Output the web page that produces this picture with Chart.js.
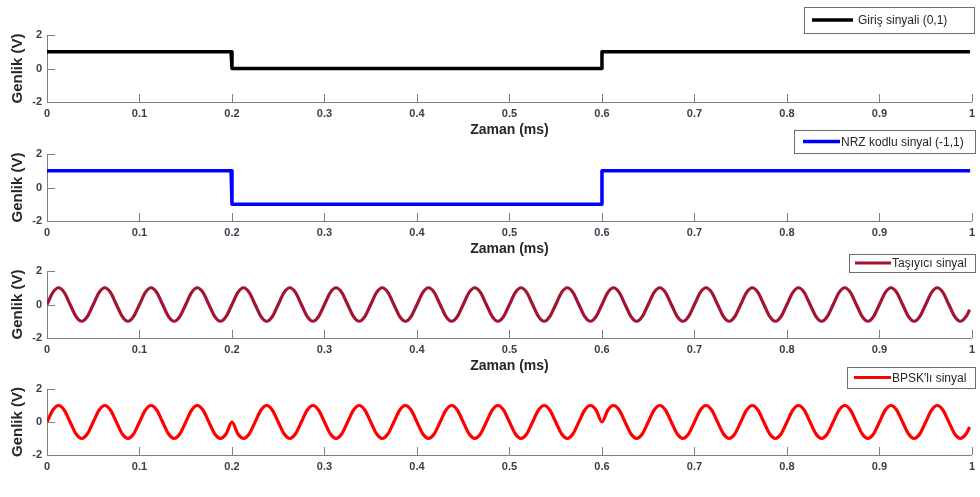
<!DOCTYPE html>
<html>
<head>
<meta charset="utf-8">
<script src="https://cdn.jsdelivr.net/npm/chart.js@4.4.1/dist/chart.umd.min.js"></script>
<style>
  html, body { margin: 0; padding: 0; background: #ffffff; }
  body { width: 980px; height: 497px; position: relative; overflow: hidden; }
  .panel { position: absolute; left: 0; width: 980px; }
</style>
</head>
<body>
<div class="panel" id="p1"><canvas id="c1"></canvas></div>
<div class="panel" id="p2"><canvas id="c2"></canvas></div>
<div class="panel" id="p3"><canvas id="c3"></canvas></div>
<div class="panel" id="p4"><canvas id="c4"></canvas></div>
<script>
// ---------------- DATA ----------------
// Square waves (time in ms)
const stepTimeMs = [0, 0.199, 0.2, 0.599, 0.6, 0.998];
const inputSignal = [1, 1, 0, 0, 1, 1];        // Giriş sinyali (0,1)
const nrzSignal   = [1, 1, -1, -1, 1, 1];      // NRZ kodlu sinyal (-1,1)

// Sampled carrier / BPSK (time in ms)
const waveTimeMs = [
  0,0.00625,0.0125,0.01875,0.025,0.03125,0.0375,0.04375,
  0.05,0.05625,0.0625,0.06875,0.075,0.08125,0.0875,0.09375,
  0.1,0.10625,0.1125,0.11875,0.125,0.13125,0.1375,0.14375,
  0.15,0.15625,0.1625,0.16875,0.175,0.18125,0.1875,0.19375,
  0.2,0.20625,0.2125,0.21875,0.225,0.23125,0.2375,0.24375,
  0.25,0.25625,0.2625,0.26875,0.275,0.28125,0.2875,0.29375,
  0.3,0.30625,0.3125,0.31875,0.325,0.33125,0.3375,0.34375,
  0.35,0.35625,0.3625,0.36875,0.375,0.38125,0.3875,0.39375,
  0.4,0.40625,0.4125,0.41875,0.425,0.43125,0.4375,0.44375,
  0.45,0.45625,0.4625,0.46875,0.475,0.48125,0.4875,0.49375,
  0.5,0.50625,0.5125,0.51875,0.525,0.53125,0.5375,0.54375,
  0.55,0.55625,0.5625,0.56875,0.575,0.58125,0.5875,0.59375,
  0.6,0.60625,0.6125,0.61875,0.625,0.63125,0.6375,0.64375,
  0.65,0.65625,0.6625,0.66875,0.675,0.68125,0.6875,0.69375,
  0.7,0.70625,0.7125,0.71875,0.725,0.73125,0.7375,0.74375,
  0.75,0.75625,0.7625,0.76875,0.775,0.78125,0.7875,0.79375,
  0.8,0.80625,0.8125,0.81875,0.825,0.83125,0.8375,0.84375,
  0.85,0.85625,0.8625,0.86875,0.875,0.88125,0.8875,0.89375,
  0.9,0.90625,0.9125,0.91875,0.925,0.93125,0.9375,0.94375,
  0.95,0.95625,0.9625,0.96875,0.975,0.98125,0.9875,0.99375,
  0.9975
];
const carrierSignal = [
  0,0.71,1,0.71,0,-0.71,-1,-0.71,
  0,0.71,1,0.71,0,-0.71,-1,-0.71,
  0,0.71,1,0.71,0,-0.71,-1,-0.71,
  0,0.71,1,0.71,0,-0.71,-1,-0.71,
  0,0.71,1,0.71,0,-0.71,-1,-0.71,
  0,0.71,1,0.71,0,-0.71,-1,-0.71,
  0,0.71,1,0.71,0,-0.71,-1,-0.71,
  0,0.71,1,0.71,0,-0.71,-1,-0.71,
  0,0.71,1,0.71,0,-0.71,-1,-0.71,
  0,0.71,1,0.71,0,-0.71,-1,-0.71,
  0,0.71,1,0.71,0,-0.71,-1,-0.71,
  0,0.71,1,0.71,0,-0.71,-1,-0.71,
  0,0.71,1,0.71,0,-0.71,-1,-0.71,
  0,0.71,1,0.71,0,-0.71,-1,-0.71,
  0,0.71,1,0.71,0,-0.71,-1,-0.71,
  0,0.71,1,0.71,0,-0.71,-1,-0.71,
  0,0.71,1,0.71,0,-0.71,-1,-0.71,
  0,0.71,1,0.71,0,-0.71,-1,-0.71,
  0,0.71,1,0.71,0,-0.71,-1,-0.71,
  0,0.71,1,0.71,0,-0.71,-1,-0.71,
  -0.31
];
const bpskSignal = [
  0,0.71,1,0.71,0,-0.71,-1,-0.71,
  0,0.71,1,0.71,0,-0.71,-1,-0.71,
  0,0.71,1,0.71,0,-0.71,-1,-0.71,
  0,0.71,1,0.71,0,-0.71,-1,-0.71,
  0,-0.71,-1,-0.71,0,0.71,1,0.71,
  0,-0.71,-1,-0.71,0,0.71,1,0.71,
  0,-0.71,-1,-0.71,0,0.71,1,0.71,
  0,-0.71,-1,-0.71,0,0.71,1,0.71,
  0,-0.71,-1,-0.71,0,0.71,1,0.71,
  0,-0.71,-1,-0.71,0,0.71,1,0.71,
  0,-0.71,-1,-0.71,0,0.71,1,0.71,
  0,-0.71,-1,-0.71,0,0.71,1,0.71,
  0,0.71,1,0.71,0,-0.71,-1,-0.71,
  0,0.71,1,0.71,0,-0.71,-1,-0.71,
  0,0.71,1,0.71,0,-0.71,-1,-0.71,
  0,0.71,1,0.71,0,-0.71,-1,-0.71,
  0,0.71,1,0.71,0,-0.71,-1,-0.71,
  0,0.71,1,0.71,0,-0.71,-1,-0.71,
  0,0.71,1,0.71,0,-0.71,-1,-0.71,
  0,0.71,1,0.71,0,-0.71,-1,-0.71,
  -0.31
];

// Tick labels
const xTickValues = [0, 0.1, 0.2, 0.3, 0.4, 0.5, 0.6, 0.7, 0.8, 0.9, 1];
const xTickLabels = ['0', '0.1', '0.2', '0.3', '0.4', '0.5', '0.6', '0.7', '0.8', '0.9', '1'];
const yTickValues = [-2, 0, 2];
const yTickLabels = ['-2', '0', '2'];

const seriesNames = ['Giriş sinyali (0,1)', 'NRZ kodlu sinyal (-1,1)', 'Taşıyıcı sinyal', "BPSK'lı sinyal"];
const xAxisTitle = 'Zaman (ms)';
const yAxisTitle = 'Genlik (V)';

// ---------------- STYLE / LAYOUT ----------------
const FONT = "'Liberation Sans', Arial, Helvetica, sans-serif";
const AXIS_COLOR = '#7f7f7f';
const TICK_TEXT = '#3c3c4c';
const TITLE_TEXT = '#262626';

const panels = [
  { id: 'c1', box: 'p1', top: 0,   plotH: 67, showXTitle: true,
    times: stepTimeMs, values: inputSignal, color: '#000000', smooth: false, width: 3.5,
    legend: { l: 804, t: 7, r: 974, b: 33, lx1: 812, lx2: 853, tx: 858 } },
  { id: 'c2', box: 'p2', top: 119, plotH: 67, showXTitle: true,
    times: stepTimeMs, values: nrzSignal, color: '#0000ff', smooth: false, width: 3.5,
    legend: { l: 794, t: 130, r: 975, b: 153, lx1: 803, lx2: 840, tx: 841 } },
  { id: 'c3', box: 'p3', top: 236, plotH: 67, showXTitle: true,
    times: waveTimeMs, values: carrierSignal, color: '#a2142f', smooth: true, width: 3.2,
    legend: { l: 849, t: 254, r: 975, b: 272, lx1: 855, lx2: 891, tx: 892 } },
  { id: 'c4', box: 'p4', top: 354, plotH: 66, showXTitle: false,
    times: waveTimeMs, values: bpskSignal, color: '#ff0000', smooth: true, width: 3.2,
    legend: { l: 847, t: 367, r: 975, b: 388, lx1: 854, lx2: 891, tx: 892 } }
];

const PAD_TOP = 35;
const XAXIS_H = 41;
const YAXIS_W = 47;

const innerTicks = {
  id: 'innerTicks',
  afterDraw(chart) {
    const ctx = chart.ctx, ca = chart.chartArea;
    const xs = chart.scales.x, ys = chart.scales.y;
    ctx.save();
    ctx.strokeStyle = AXIS_COLOR;
    ctx.lineWidth = 1;
    ctx.beginPath();
    xTickValues.forEach(v => {
      const px = Math.round(xs.getPixelForValue(v)) + 0.5;
      ctx.moveTo(px, ca.bottom);
      ctx.lineTo(px, ca.bottom - 8);
    });
    yTickValues.forEach(v => {
      const py = Math.round(ys.getPixelForValue(v)) + 0.5;
      ctx.moveTo(ca.left, py);
      ctx.lineTo(ca.left + 8, py);
    });
    ctx.stroke();
    ctx.restore();
  }
};

const boxLegend = {
  id: 'boxLegend',
  afterDraw(chart, args, opts) {
    const p = opts.panel;
    if (!p) return;
    const L = p.legend, off = p.top;
    const ctx = chart.ctx;
    ctx.save();
    ctx.fillStyle = '#ffffff';
    ctx.fillRect(L.l, L.t - off, L.r - L.l, L.b - L.t);
    ctx.strokeStyle = '#6e6e6e';
    ctx.lineWidth = 1;
    ctx.strokeRect(L.l + 0.5, L.t - off + 0.5, L.r - L.l, L.b - L.t);
    const cy = (L.t + L.b) / 2 - off;
    ctx.strokeStyle = p.color;
    ctx.lineWidth = p.width;
    ctx.beginPath();
    ctx.moveTo(L.lx1, cy);
    ctx.lineTo(L.lx2, cy);
    ctx.stroke();
    ctx.fillStyle = TITLE_TEXT;
    ctx.font = '12px ' + FONT;
    ctx.textBaseline = 'middle';
    ctx.textAlign = 'left';
    ctx.fillText(p.name, L.tx, cy + 1);
    ctx.restore();
  }
};

panels.forEach((p, idx) => {
  p.name = seriesNames[idx];
  const box = document.getElementById(p.box);
  const h = PAD_TOP + p.plotH + XAXIS_H;
  box.style.top = p.top + 'px';
  box.style.height = h + 'px';
  const canvas = document.getElementById(p.id);
  canvas.width = 980; canvas.height = h;
  canvas.style.width = '980px'; canvas.style.height = h + 'px';

  const pts = p.times.map((t, i) => ({ x: t, y: p.values[i] }));

  new Chart(canvas, {
    type: 'line',
    data: {
      datasets: [{
        label: p.name,
        data: pts,
        borderColor: p.color,
        borderWidth: p.width,
        pointRadius: 0,
        fill: false,
        cubicInterpolationMode: p.smooth ? 'monotone' : 'default',
        tension: 0,
        borderJoinStyle: 'round',
        borderCapStyle: 'butt'
      }]
    },
    options: {
      responsive: false,
      animation: false,
      devicePixelRatio: 1,
      layout: { padding: { top: PAD_TOP, left: 0, right: 4, bottom: 0 } },
      plugins: {
        legend: { display: false },
        tooltip: { enabled: false },
        boxLegend: { panel: p }
      },
      scales: {
        x: {
          type: 'linear',
          min: 0, max: 1,
          afterBuildTicks: s => { s.ticks = xTickValues.map(v => ({ value: v })); },
          afterFit: s => { s.height = XAXIS_H; },
          grid: { display: false, drawTicks: false },
          border: { display: true, color: AXIS_COLOR, width: 1 },
          ticks: {
            autoSkip: false, maxRotation: 0, padding: 5,
            color: TICK_TEXT, font: { family: FONT, size: 11, weight: 'bold' },
            callback: (v, i) => xTickLabels[i]
          },
          title: {
            display: p.showXTitle, text: xAxisTitle, color: TITLE_TEXT,
            font: { family: FONT, size: 14, weight: 'bold' }, padding: { top: 0, bottom: 4 }
          }
        },
        y: {
          type: 'linear',
          min: -2, max: 2,
          afterBuildTicks: s => { s.ticks = yTickValues.map(v => ({ value: v })); },
          afterFit: s => { s.width = YAXIS_W; },
          grid: { display: false, drawTicks: false },
          border: { display: true, color: AXIS_COLOR, width: 1 },
          ticks: {
            padding: 5, color: TICK_TEXT, font: { family: FONT, size: 11, weight: 'bold' },
            callback: (v, i) => yTickLabels[i]
          },
          title: {
            display: true, text: yAxisTitle, color: TITLE_TEXT,
            font: { family: FONT, size: 15, weight: 'bold' }, padding: { top: 9, bottom: 0 }
          }
        }
      }
    },
    plugins: [innerTicks, boxLegend]
  });
});
</script>
</body>
</html>
